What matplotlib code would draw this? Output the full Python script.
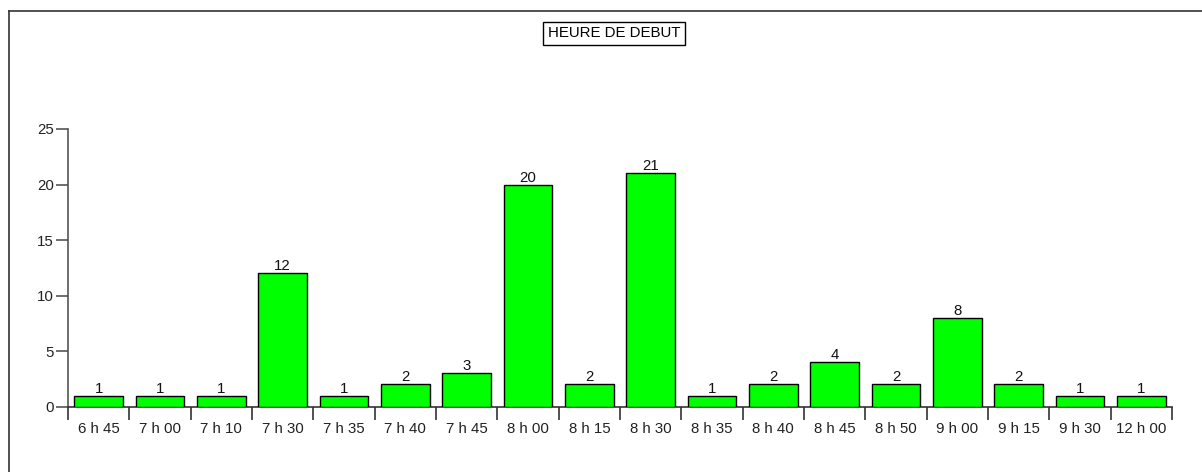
import matplotlib
matplotlib.use("Agg")
import matplotlib.pyplot as plt
from matplotlib.lines import Line2D

categories = ["6 h 45", "7 h 00", "7 h 10", "7 h 30", "7 h 35", "7 h 40", "7 h 45",
              "8 h 00", "8 h 15", "8 h 30", "8 h 35", "8 h 40", "8 h 45", "8 h 50",
              "9 h 00", "9 h 15", "9 h 30", "12 h 00"]
counts = [1, 1, 1, 12, 1, 2, 3, 20, 2, 21, 1, 2, 4, 2, 8, 2, 1, 1]
yticks = [0, 5, 10, 15, 20, 25]
title = "HEURE DE DEBUT"

W, H = 1202, 472
FS = 10.8
plt.rcParams['font.family'] = ['Liberation Sans', 'DejaVu Sans']
fig = plt.figure(figsize=(W / 100, H / 100), dpi=100)

# outer frame (top and left lines)
fig.add_artist(Line2D([9 / W, 1], [1 - 11 / H, 1 - 11 / H], color="#333333", lw=1.2))
fig.add_artist(Line2D([9 / W, 9 / W], [0, 1 - 11 / H], color="#333333", lw=1.2))

left, right = 68 / W, 1172 / W
bottom, top = (H - 406.7) / H, (H - 129) / H
ax = fig.add_axes([left, bottom, right - left, top - bottom])

x = list(range(len(categories)))
ax.bar(x, counts, width=0.79, color="#00FF00", edgecolor="black", linewidth=1.0, zorder=3)
for xi, v in zip(x, counts):
    ax.text(xi, v, str(v), ha="center", va="bottom", fontsize=FS, color="#111111")

ax.set_xlim(-0.5, len(categories) - 0.5)
ax.set_ylim(0, 25)
for s in ["top", "right"]:
    ax.spines[s].set_visible(False)
ax.spines["left"].set_color("#555555")
ax.spines["bottom"].set_color("#333333")
ax.spines["left"].set_linewidth(1.2)
ax.spines["bottom"].set_linewidth(1.2)

ax.set_yticks(yticks)
ax.set_yticklabels([str(t) for t in yticks], fontsize=FS, color="#222222")
ax.tick_params(axis="y", length=9, width=1.2, color="#555555", pad=1)

# x ticks at category boundaries, labels at centers
ax.set_xticks([i - 0.5 for i in range(len(categories) + 1)])
ax.set_xticklabels([])
ax.set_xticks(x, minor=True)
ax.set_xticklabels(categories, minor=True, fontsize=FS, color="#222222")
ax.tick_params(axis="x", which="major", length=9, width=1.2, color="#333333")
ax.tick_params(axis="x", which="minor", length=0, pad=11)

fig.text(614 / W, 1 - 33 / H, title, ha="center", va="center", fontsize=FS,
         bbox=dict(boxstyle="square,pad=0.3", facecolor="white", edgecolor="black", linewidth=1.0))

fig.savefig("out.png", dpi=100)
